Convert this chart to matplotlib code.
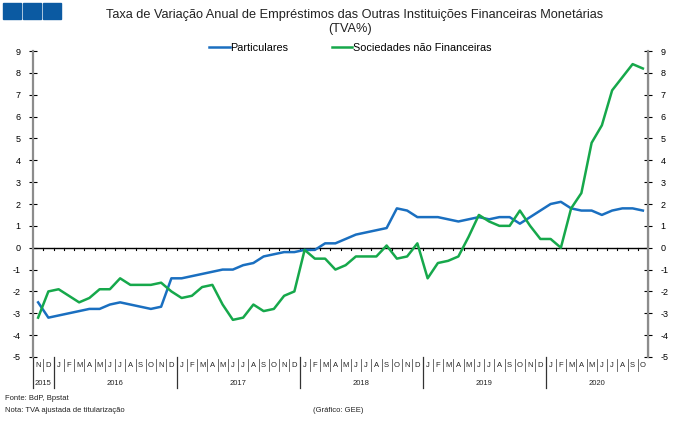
import matplotlib.pyplot as plt
from matplotlib.patches import Rectangle
from matplotlib.transforms import blended_transform_factory

# Monthly data, Nov 2015 - Oct 2020
months = ["N", "D"] + ["J", "F", "M", "A", "M", "J", "J", "A", "S", "O", "N", "D"] * 4 + \
         ["J", "F", "M", "A", "M", "J", "J", "A", "S", "O"]
years = ["2015", "2016", "2017", "2018", "2019", "2020"]
year_counts = [2, 12, 12, 12, 12, 10]

particulares = [-2.5, -3.2, -3.1, -3.0, -2.9, -2.8, -2.8, -2.6, -2.5, -2.6, -2.7, -2.8,
                -2.7, -1.4, -1.4, -1.3, -1.2, -1.1, -1.0, -1.0, -0.8, -0.7, -0.4, -0.3,
                -0.2, -0.2, -0.1, -0.1, 0.2, 0.2, 0.4, 0.6, 0.7, 0.8, 0.9, 1.8,
                1.7, 1.4, 1.4, 1.4, 1.3, 1.2, 1.3, 1.4, 1.3, 1.4, 1.4, 1.1,
                1.4, 1.7, 2.0, 2.1, 1.8, 1.7, 1.7, 1.5, 1.7, 1.8, 1.8, 1.7]
sociedades = [-3.2, -2.0, -1.9, -2.2, -2.5, -2.3, -1.9, -1.9, -1.4, -1.7, -1.7, -1.7,
              -1.6, -2.0, -2.3, -2.2, -1.8, -1.7, -2.6, -3.3, -3.2, -2.6, -2.9, -2.8,
              -2.2, -2.0, -0.1, -0.5, -0.5, -1.0, -0.8, -0.4, -0.4, -0.4, 0.1, -0.5,
              -0.4, 0.2, -1.4, -0.7, -0.6, -0.4, 0.5, 1.5, 1.2, 1.0, 1.0, 1.7,
              1.0, 0.4, 0.4, 0.0, 1.8, 2.5, 4.8, 5.6, 7.2, 7.8, 8.4, 8.2]

blue = "#1a6fc0"
green = "#16a84b"
axis_gray = "#8c8c8c"

plt.rcParams['font.family'] = ['Liberation Sans', 'DejaVu Sans']
plt.rcParams['axes.unicode_minus'] = False

fig = plt.figure(figsize=(6.8, 4.21), dpi=100)
ax = fig.add_axes([33 / 680, 1 - 357 / 421, 615 / 680, 306 / 421])

x = list(range(len(months)))
ax.plot(x, particulares, color=blue, lw=1.8, label="Particulares")
ax.plot(x, sociedades, color=green, lw=1.8, label="Sociedades não Financeiras")

ax.set_xlim(-0.5, len(months) - 0.5)
ax.set_ylim(-5, 9)
ax.set_yticks(range(-5, 10))
ax.set_xticks([])

for s in ["top", "bottom"]:
    ax.spines[s].set_visible(False)
ax.spines["left"].set_color(axis_gray)
ax.spines["left"].set_linewidth(1.6)
ax.tick_params(axis="y", direction="inout", length=6, width=0.8, color="black",
               labelsize=6.5, pad=6)

ax2 = ax.twinx()
ax2.set_ylim(-5, 9)
ax2.set_yticks(range(-5, 10))
for s in ["top", "bottom", "left"]:
    ax2.spines[s].set_visible(False)
ax2.spines["right"].set_color(axis_gray)
ax2.spines["right"].set_linewidth(1.6)
ax2.tick_params(axis="y", direction="inout", length=6, width=0.8, color="black",
                labelsize=6.5, pad=6)

# zero line with month ticks
ax.axhline(0, color="black", lw=1.0, zorder=1)
for b in range(len(months) - 1):
    ax.plot([b + 0.5, b + 0.5], [0, -0.12], color="black", lw=0.8, zorder=1)

# category axis below the plot
trans = blended_transform_factory(ax.transData, ax.transAxes)
for i, m in enumerate(months):
    ax.text(i, -0.027, m, transform=trans, ha="center", va="center", fontsize=5.5,
            color="#222222")
    if i > 0:
        ax.plot([i - 0.5, i - 0.5], [-0.005, -0.045], transform=trans, color="#555555",
                lw=0.6, clip_on=False)

start = 0
for yr, n in zip(years, year_counts):
    ax.text(start + n / 2 - 0.5, -0.085, yr, transform=trans, ha="center", va="center",
            fontsize=5.5, color="#222222")
    start += n
    if start < len(months):
        ax.plot([start - 0.5, start - 0.5], [0.0, -0.1], transform=trans, color="#333333",
                lw=0.9, clip_on=False)
ax.plot([-0.5, -0.5], [0.0, -0.1], transform=trans, color="#333333", lw=0.9, clip_on=False)

# title and legend
fig.text(355 / 680, 1 - 15 / 421,
         "Taxa de Variação Anual de Empréstimos das Outras Instituições Financeiras Monetárias",
         ha="center", va="center", fontsize=9.2, color="#222222")
fig.text(350 / 680, 1 - 29 / 421, "(TVA%)", ha="center", va="center", fontsize=9.2,
         color="#222222")
ax.legend(loc="lower center", bbox_to_anchor=(0.516, 0.98), ncol=2, frameon=False,
          fontsize=7.8, handlelength=1.9, handletextpad=0.05, columnspacing=4.0,
          borderaxespad=0)

# logo squares
for x0 in [3, 23, 43]:
    fig.add_artist(Rectangle((x0 / 680, 1 - 19 / 421), 18 / 680, 16 / 421,
                             transform=fig.transFigure, color="#0b5aa2"))

# footer
fig.text(5 / 680, 1 - 399 / 421, "Fonte: BdP, Bpstat", fontsize=5.5, va="center",
         color="#222222")
fig.text(5 / 680, 1 - 410 / 421, "Nota: TVA ajustada de titularização", fontsize=5.5,
         va="center", color="#222222")
fig.text(313 / 680, 1 - 410 / 421, "(Gráfico: GEE)", fontsize=5.5, va="center",
         color="#222222")

fig.savefig("out.png", dpi=100)
